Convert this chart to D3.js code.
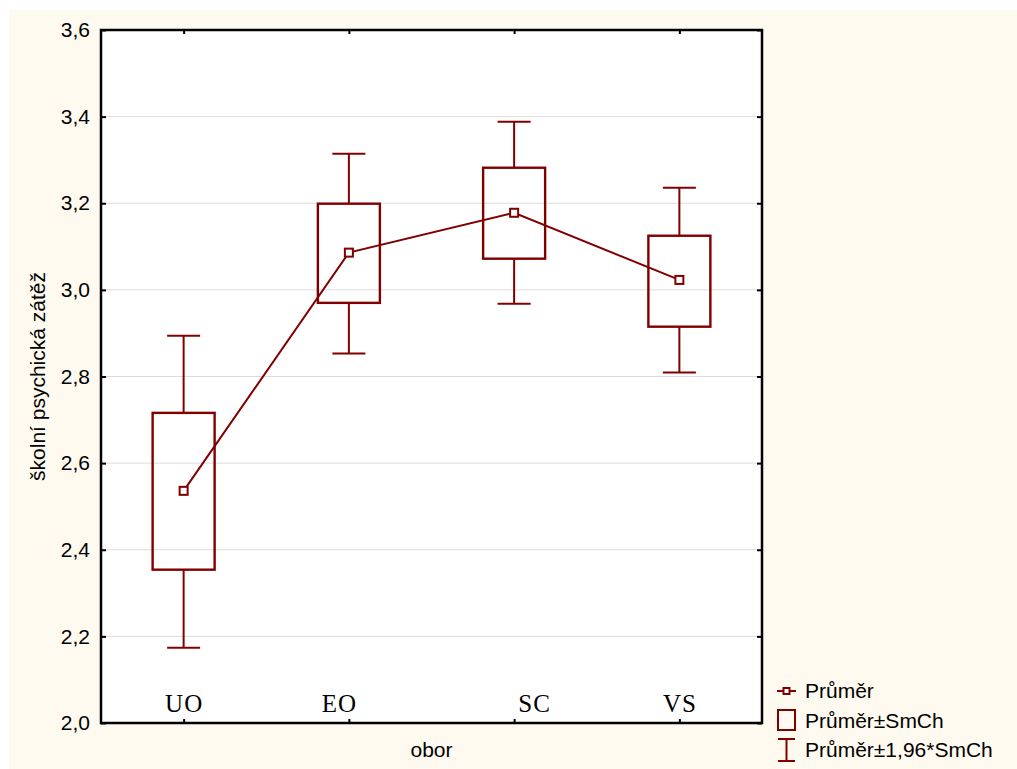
<!DOCTYPE html>
<html>
<head>
<meta charset="utf-8">
<script src="https://cdn.jsdelivr.net/npm/d3@7"></script>
<style>
  body { margin: 0; background: #ffffff; }
  svg { display: block; }
</style>
</head>
<body>
<div id="vis"></div>
<script>
// data
const categories = ["UO", "EO", "SC", "VS"];
const means      = [2.536, 3.086, 3.178, 3.023];
const boxLow     = [2.354, 2.970, 3.072, 2.915];
const boxHigh    = [2.716, 3.199, 3.282, 3.125];
const ciLow      = [2.174, 2.853, 2.968, 2.809];
const ciHigh     = [2.894, 3.314, 3.388, 3.236];
const yTicks     = [2.0, 2.2, 2.4, 2.6, 2.8, 3.0, 3.2, 3.4, 3.6];
const legendLabels = ["Průměr", "Průměr±SmCh", "Průměr±1,96*SmCh"];

const data = categories.map((c, i) => ({
  cat: c, mean: means[i], lo: boxLow[i], hi: boxHigh[i], ciLo: ciLow[i], ciHi: ciHigh[i]
}));

const WIDTH = 1017, HEIGHT = 769;
const PLOT = {left: 101, right: 762, top: 30, bottom: 723};
const RED = "#800000";
const FONT = "Arial, 'Liberation Sans', sans-serif";
const FS = "21px";

const svg = d3.select("#vis").append("svg")
  .attr("width", WIDTH).attr("height", HEIGHT);

// cream background
svg.append("rect")
  .attr("x", 9).attr("y", 10)
  .attr("width", WIDTH - 9).attr("height", HEIGHT - 10)
  .attr("fill", "#fffaf0");

// plot area
svg.append("rect")
  .attr("x", PLOT.left).attr("y", PLOT.top)
  .attr("width", PLOT.right - PLOT.left).attr("height", PLOT.bottom - PLOT.top)
  .attr("fill", "#ffffff");

const x = d3.scalePoint()
  .domain(categories)
  .range([PLOT.left, PLOT.right])
  .padding(0.5);

const y = d3.scaleLinear()
  .domain([2.0, 3.6])
  .range([PLOT.bottom, PLOT.top]);

// gridlines
svg.append("g")
  .selectAll("line")
  .data(yTicks.slice(1, -1))
  .join("line")
  .attr("x1", PLOT.left).attr("x2", PLOT.right)
  .attr("y1", d => y(d)).attr("y2", d => y(d))
  .attr("stroke", "#dcdcdc").attr("stroke-width", 1);

const fmt = d => d3.format(".1f")(d).replace(".", ",");

// left axis
const yAxis = svg.append("g")
  .attr("transform", "translate(" + PLOT.left + ",0)")
  .call(d3.axisLeft(y).tickValues(yTicks).tickFormat(fmt).tickSize(-5).tickPadding(11));
yAxis.select(".domain").remove();
yAxis.selectAll("line").attr("stroke", "#000").attr("stroke-width", 2);
yAxis.selectAll("text")
  .style("font-family", FONT).style("font-size", FS).attr("fill", "#000");

// right ticks
const yAxisR = svg.append("g")
  .attr("transform", "translate(" + PLOT.right + ",0)")
  .call(d3.axisRight(y).tickValues(yTicks).tickFormat("").tickSize(-5));
yAxisR.select(".domain").remove();
yAxisR.selectAll("line").attr("stroke", "#000").attr("stroke-width", 2);

// top ticks
const xAxisT = svg.append("g")
  .attr("transform", "translate(0," + PLOT.top + ")")
  .call(d3.axisTop(x).tickFormat("").tickSize(-4));
xAxisT.select(".domain").remove();
xAxisT.selectAll("line").attr("stroke", "#000").attr("stroke-width", 2);

// bottom ticks and labels (typewriter-like labels)
const labelShift = [0, -10, 20, 0];
const xAxis = svg.append("g")
  .attr("transform", "translate(0," + PLOT.bottom + ")")
  .call(d3.axisBottom(x).tickSize(-4).tickPadding(0));
xAxis.select(".domain").remove();
xAxis.selectAll("line").attr("stroke", "#000").attr("stroke-width", 2);
xAxis.selectAll("text")
  .attr("y", -11).attr("dy", 0)
  .style("font-family", "'Liberation Serif', 'DejaVu Serif', serif")
  .style("font-size", "25px").style("letter-spacing", "1px").attr("fill", "#000")
  .attr("dx", (d, i) => labelShift[i]);

// frame
svg.append("rect")
  .attr("x", PLOT.left).attr("y", PLOT.top)
  .attr("width", PLOT.right - PLOT.left).attr("height", PLOT.bottom - PLOT.top)
  .attr("fill", "none").attr("stroke", "#000").attr("stroke-width", 2.5);

// axis titles
svg.append("text")
  .attr("transform", "translate(45," + ((PLOT.top + PLOT.bottom) / 2) + ") rotate(-90)")
  .attr("text-anchor", "middle")
  .style("font-family", FONT).style("font-size", FS)
  .text("školní psychická zátěž");

svg.append("text")
  .attr("x", (PLOT.left + PLOT.right) / 2).attr("y", 757)
  .attr("text-anchor", "middle")
  .style("font-family", FONT).style("font-size", FS)
  .text("obor");

// whiskers and boxes
const boxW = 62, capW = 33;
const g = svg.append("g");
data.forEach(d => {
  const cx = x(d.cat);
  g.append("line").attr("x1", cx).attr("x2", cx)
    .attr("y1", y(d.ciHi)).attr("y2", y(d.hi))
    .attr("stroke", RED).attr("stroke-width", 2);
  g.append("line").attr("x1", cx).attr("x2", cx)
    .attr("y1", y(d.lo)).attr("y2", y(d.ciLo))
    .attr("stroke", RED).attr("stroke-width", 2);
  [d.ciHi, d.ciLo].forEach(v => {
    g.append("line").attr("x1", cx - capW / 2).attr("x2", cx + capW / 2)
      .attr("y1", y(v)).attr("y2", y(v))
      .attr("stroke", RED).attr("stroke-width", 2);
  });
  g.append("rect")
    .attr("x", cx - boxW / 2).attr("y", y(d.hi))
    .attr("width", boxW).attr("height", y(d.lo) - y(d.hi))
    .attr("fill", "none").attr("stroke", RED).attr("stroke-width", 2.4);
});

// mean line
svg.append("path")
  .datum(data)
  .attr("d", d3.line().x(d => x(d.cat)).y(d => y(d.mean)))
  .attr("fill", "none").attr("stroke", RED).attr("stroke-width", 2);

svg.append("g").selectAll("rect")
  .data(data)
  .join("rect")
  .attr("x", d => x(d.cat) - 4).attr("y", d => y(d.mean) - 4)
  .attr("width", 8).attr("height", 8)
  .attr("fill", "#fff").attr("stroke", RED).attr("stroke-width", 2);

// legend
const leg = svg.append("g").attr("transform", "translate(777,0)");
leg.append("line").attr("x1", 0).attr("x2", 19).attr("y1", 691).attr("y2", 691)
  .attr("stroke", RED).attr("stroke-width", 2);
leg.append("rect").attr("x", 6.5).attr("y", 688).attr("width", 6).attr("height", 6)
  .attr("fill", "#fff").attr("stroke", RED).attr("stroke-width", 2);
leg.append("rect").attr("x", 1).attr("y", 710).attr("width", 17).attr("height", 20)
  .attr("fill", "none").attr("stroke", RED).attr("stroke-width", 2);
leg.append("line").attr("x1", 9.5).attr("x2", 9.5).attr("y1", 739).attr("y2", 761)
  .attr("stroke", RED).attr("stroke-width", 2);
leg.append("line").attr("x1", 1).attr("x2", 18).attr("y1", 739).attr("y2", 739)
  .attr("stroke", RED).attr("stroke-width", 2);
leg.append("line").attr("x1", 1).attr("x2", 18).attr("y1", 761).attr("y2", 761)
  .attr("stroke", RED).attr("stroke-width", 2);
leg.selectAll("text.lab")
  .data(legendLabels)
  .join("text")
  .attr("class", "lab")
  .attr("x", 28).attr("y", (d, i) => 698 + i * 29.5)
  .style("font-family", FONT).style("font-size", FS)
  .text(d => d);
</script>
</body>
</html>
